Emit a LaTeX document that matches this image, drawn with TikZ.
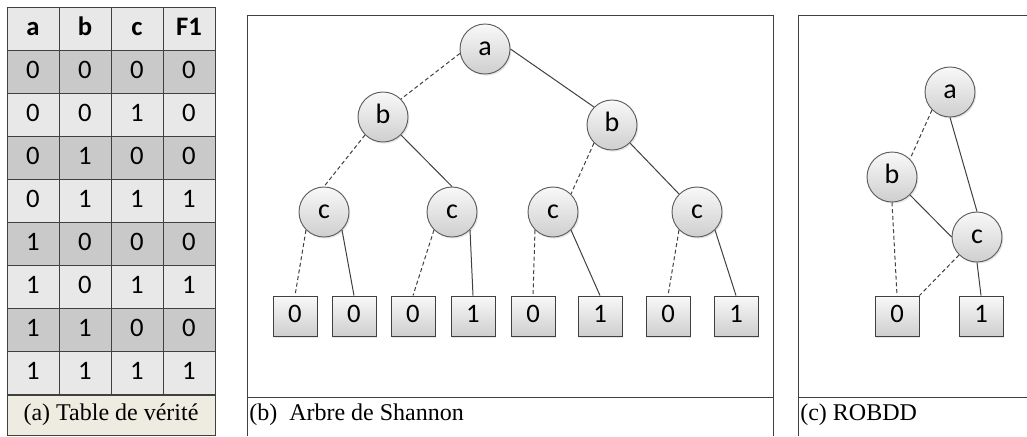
\documentclass[tikz,border=0pt]{standalone}
\usepackage{fontspec}
\setmainfont{Liberation Serif}
\newfontfamily\calibri{Carlito}
\usepackage{xcolor}
\usepackage{tikz}
\usetikzlibrary{shapes,arrows,positioning,calc,shadows}

\definecolor{rowdark}{HTML}{C9C9C9}
\definecolor{rowlight}{HTML}{E8E8E8}
\definecolor{capbeige}{HTML}{EEECE1}
\definecolor{linegray}{HTML}{404040}

\begin{document}
\begin{tikzpicture}[x=0.75pt, y=-0.75pt,
    cell/.style={draw=linegray, line width=0.6pt, rectangle, minimum width=39pt, minimum height=32.3pt, inner sep=0pt, text height=10pt, text depth=0pt, font=\calibri\fontsize{20}{22}\selectfont},
    var/.style={draw=linegray!85, line width=0.7pt, circle, minimum size=37.5pt, inner sep=0pt, text height=10pt, text depth=0pt, top color=gray!5, bottom color=gray!38, font=\calibri\fontsize{21}{22}\selectfont, drop shadow={opacity=0.2, shadow xshift=1pt, shadow yshift=-1.2pt}},
    leaf/.style={draw=linegray, line width=0.7pt, rectangle, minimum width=33pt, minimum height=30pt, inner sep=0pt, text height=10pt, text depth=0pt, top color=gray!5, bottom color=gray!38, font=\calibri\fontsize{20}{22}\selectfont, drop shadow={opacity=0.2, shadow xshift=1pt, shadow yshift=-1.2pt}},
    hi/.style={draw=linegray, line width=0.75pt},
    lo/.style={hi, dash pattern=on 3pt off 2pt},
    panel/.style={draw=linegray, line width=0.75pt},
    caption/.style={font=\fontsize{18}{20}\selectfont}]
    \useasboundingbox (0,0) rectangle (1027,436);

    % (a) truth table
    \foreach \v [count=\k] in {a,b,c,F1}
        \node[cell, fill=rowlight, font=\calibri\bfseries\fontsize{20}{22}\selectfont] (t-0-\k) at ({33+52*(\k-1)}, 28.5) {\v};
    \foreach \col/\a/\b/\c/\f [count=\r] in {rowdark/0/0/0/0, rowlight/0/0/1/0, rowdark/0/1/0/0, rowlight/0/1/1/1,
                                           rowdark/1/0/0/0, rowlight/1/0/1/1, rowdark/1/1/0/0, rowlight/1/1/1/1}
        \foreach \v [count=\k] in {\a,\b,\c,\f}
            \node[cell, fill=\col] (t-\r-\k) at ({33+52*(\k-1)}, {28.5+43.1*\r}) {\v};
    \node[cell, fill=capbeige, minimum width=156pt, minimum height=30pt, text height=, text depth=, caption] (capa) at (111,415) {(a) Table de vérité};

    % (b) Shannon tree
    \draw[panel] (247,436) -- (247,15) -- (773,15) -- (773,436);
    \draw[panel] (247,397) -- (773,397);
    \node[caption, anchor=west, inner sep=0pt] (capb) at (249,415) {(b)\ \ Arbre de Shannon};

    \node[var] (a) at (485,49) {a};
    \node[var] (bl) at (383,117) {b};
    \node[var] (br) at (612,125) {b};
    \node[var] (c1) at (324,212) {c};
    \node[var] (c2) at (452,212) {c};
    \node[var] (c3) at (553,212) {c};
    \node[var] (c4) at (697,212) {c};
    \foreach \x/\v [count=\i] in {295/0, 354/0, 413/0, 473/1, 533/0, 600/1, 668/0, 736/1}
        \node[leaf] (l\i) at (\x,316) {\v};

    \draw[lo] (a.190) -- (bl.north east);
    \draw[hi] (a.east) -- (br.north west);
    \draw[lo] (bl.south west) -- (c1.north);
    \draw[hi] (bl.south east) -- (c2.north);
    \draw[lo] (br.south west) -- (c3.north east);
    \draw[hi] (br.south east) -- (c4.north west);
    \foreach \c/\p/\q in {c1/l1/l2, c2/l3/l4, c3/l5/l6, c4/l7/l8} {
        \draw[lo] (\c.south west) -- (\p.north);
        \draw[hi] (\c.south east) -- (\q.north);
    }

    % (c) ROBDD
    \draw[panel] (798,436) -- (798,15) -- (1027,15);
    \draw[panel] (798,397) -- (1027,397);
    \node[caption, anchor=west, inner sep=0pt] (capc) at (800,415) {(c) ROBDD};

    \node[var] (ra) at (950,92) {a};
    \node[var] (rb) at (892,177) {b};
    \node[var] (rc) at (977,237) {c};
    \node[leaf] (r0) at (897,316) {0};
    \node[leaf] (r1) at (981,316) {1};

    \draw[lo] (ra.south west) -- (rb.north east);
    \draw[hi] (ra.south) -- (rc.north);
    \draw[hi] (rb.south east) -- (rc.west);
    \draw[lo] (rb.south) -- (r0.north);
    \draw[lo] (rc.south west) -- (r0.north east);
    \draw[hi] (rc.south) -- (r1.north);
\end{tikzpicture}
\end{document}
